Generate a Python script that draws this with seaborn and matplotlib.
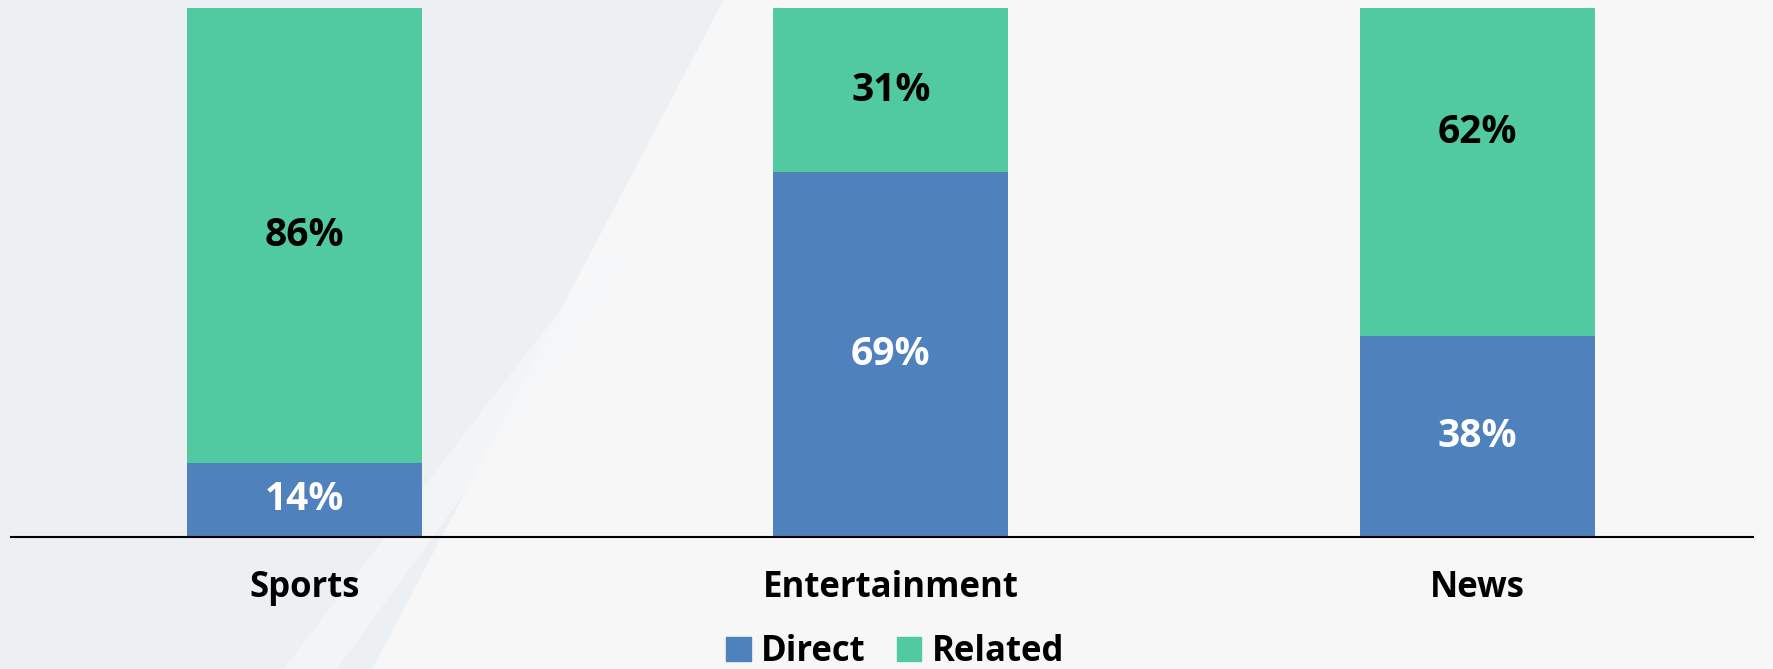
import matplotlib
matplotlib.use("Agg")
import matplotlib.pyplot as plt
import seaborn as sns
import pandas as pd
from matplotlib.patches import Patch, Polygon

categories = ["Sports", "Entertainment", "News"]
direct = [14, 69, 38]
related = [86, 31, 62]
series_names = ["Direct", "Related"]
related_label_shift = [0, 0, 7.5]  # label placement nudge (percentage points)

blue = "#4F81BD"
green = "#51C9A1"
bg = "#F7F7F7"
bg_left = "#EDF0F3"

sns.set_theme(style="white")
plt.rcParams['font.family'] = ['Open Sans', 'DejaVu Sans']

fig = plt.figure(figsize=(17.73, 6.69), dpi=100, facecolor=bg)
# subtle decorative background
fig.patches.append(Polygon([(0, 0), (0.21, 0), (0.408, 1), (0, 1)], closed=True,
                           transform=fig.transFigure, facecolor=bg_left,
                           edgecolor="none", zorder=-10))
fig.patches.append(Polygon([(0.16, 0), (0.19, 0), (0.36, 0.62), (0.34, 0.62)], closed=True,
                           transform=fig.transFigure, facecolor="#F5F6F8",
                           edgecolor="none", zorder=-9, alpha=0.8))

ax = fig.add_axes([0.0062, 0.1973, 0.9825, 0.7907])
ax.set_facecolor("none")

df = pd.DataFrame({"cat": categories, "direct": direct, "related": related,
                   "total": [d + r for d, r in zip(direct, related)]})

sns.barplot(data=df, x="cat", y="total", color=green, width=0.4, ax=ax,
            saturation=1, linewidth=0)
sns.barplot(data=df, x="cat", y="direct", color=blue, width=0.4, ax=ax,
            saturation=1, linewidth=0)

for i, (d, r) in enumerate(zip(direct, related)):
    ax.text(i, d / 2, f"{d}%", ha="center", va="center", color="white",
            fontsize=28, fontweight="bold")
    ax.text(i, d + r / 2 + related_label_shift[i], f"{r}%", ha="center", va="center",
            color="black", fontsize=28, fontweight="bold")

ax.set_ylim(0, 100)
ax.set_xlim(-0.5, 2.47)
ax.set_yticks([])
ax.set_xlabel("")
ax.set_ylabel("")
for s in ["top", "right", "left"]:
    ax.spines[s].set_visible(False)
ax.spines["bottom"].set_color("black")
ax.spines["bottom"].set_linewidth(1.5)
ax.tick_params(axis="x", length=0, pad=24, colors="black")
for lbl in ax.get_xticklabels():
    lbl.set_fontsize(25)
    lbl.set_fontweight("bold")
    lbl.set_color("black")

handles = [Patch(color=blue, label=series_names[0]), Patch(color=green, label=series_names[1])]
leg = fig.legend(handles=handles, loc="center", bbox_to_anchor=(0.505, 0.025), ncol=2,
                 frameon=False, handlelength=0.7, handleheight=0.7, borderpad=0.1,
                 handletextpad=0.3, columnspacing=0.9, prop={"weight": "bold", "size": 25})
for t in leg.get_texts():
    t.set_color("black")

fig.savefig("out.png", dpi=100, facecolor=bg)
